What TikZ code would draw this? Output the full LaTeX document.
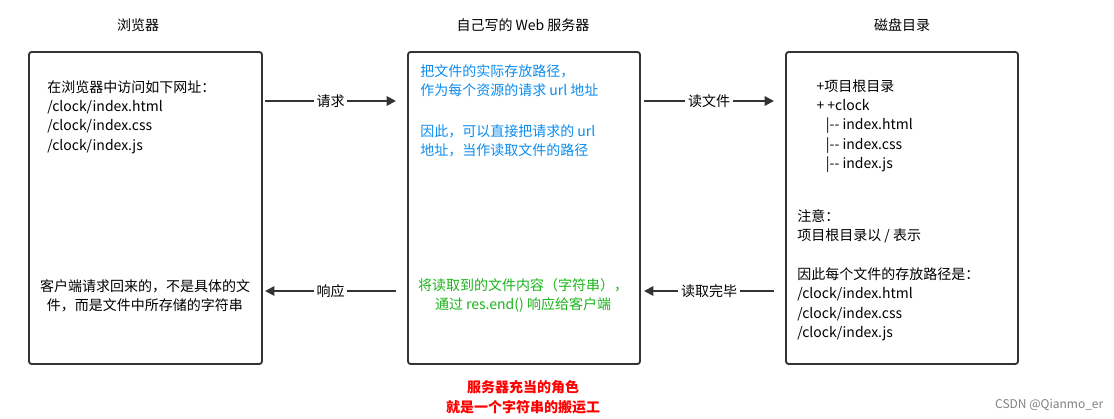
\documentclass[tikz,border=0pt]{standalone}
\usepackage{fontspec}
\setmainfont{Noto Sans CJK SC}
\usetikzlibrary{arrows.meta}
\definecolor{boxline}{HTML}{333333}
\definecolor{bluetxt}{HTML}{0A8CF0}
\definecolor{greentxt}{HTML}{1AB31A}
\newcommand{\treedash}{|{-}{-}}
\tikzset{
  panel/.style={draw=boxline,line width=1.4pt,rounded corners=2pt},
  title/.style={font=\fontsize{10.5}{13}\selectfont},
  body/.style={align=left,anchor=north west,inner sep=0pt,font=\fontsize{10.5}{14.6}\selectfont},
  flow/.style={draw=boxline,line width=1.4pt,-{Triangle[length=7pt,width=7pt]}},
  lbl/.style={fill=white,inner sep=2pt,font=\fontsize{10.5}{13}\selectfont}
}
\begin{document}
\begin{tikzpicture}[x=0.75pt,y=-0.75pt]
\useasboundingbox (0,0) rectangle (1114,418);
% boxes
\draw[panel] (29,52) rectangle (262,364);
\draw[panel] (408,52) rectangle (640,364);
\draw[panel] (786,52) rectangle (1018,364);
% titles
\node[title] (t1) at (138,25) {浏览器};
\node[title] (t2) at (523,25) {自己写的 Web 服务器};
\node[title] (t3) at (902,25) {磁盘目录};
% left box
\node[body] (req) at (47,80) {在浏览器中访问如下网址：\\/clock/index.html\\/clock/index.css\\/clock/index.js};
\node[body,align=center,anchor=north] (got) at (145,279) {客户端请求回来的，不是具体的文\\件，而是文件中所存储的字符串};
% middle box
\node[body,text=bluetxt] (map) at (420,64) {把文件的实际存放路径，\\作为每个资源的请求 url 地址};
\node[body,text=bluetxt] (url) at (420,124) {因此，可以直接把请求的 url\\地址，当作读取文件的路径};
\node[body,text=greentxt,align=center,anchor=north] (send) at (523,278) {将读取到的文件内容（字符串），\\通过 res.end() 响应给客户端};
% right box
\node[body] (tree) at (810,79) {\ \ +项目根目录\\\ \ + +clock\\\ \ \ \ \ \treedash{} index.html\\\ \ \ \ \ \treedash{} index.css\\\ \ \ \ \ \treedash{} index.js};
\node[body] (note) at (797,209) {注意：\\项目根目录以 / 表示};
\node[body] (path) at (797,267) {因此每个文件的存放路径是：\\/clock/index.html\\/clock/index.css\\/clock/index.js};
% arrows
\node[coordinate] (a1) at (265,101) {};
\node[coordinate] (b1) at (396,101) {};
\node[coordinate] (a2) at (644,101) {};
\node[coordinate] (b2) at (774,101) {};
\node[coordinate] (a3) at (396,291) {};
\node[coordinate] (b3) at (265,291) {};
\node[coordinate] (a4) at (774,291) {};
\node[coordinate] (b4) at (644,291) {};
\draw[flow] (a1) -- node[lbl] {请求} (b1);
\draw[flow] (a2) -- node[lbl] {读文件} (b2);
\draw[flow] (a3) -- node[lbl] {响应} (b3);
\draw[flow] (a4) -- node[lbl] {读取完毕} (b4);
% role
\node[align=center,text=red,font=\bfseries\fontsize{10.5}{14.6}\selectfont] (role) at (523,397) {服务器充当的角色\\就是一个字符串的搬运工};
\node[anchor=east,text=gray,font=\fontsize{9}{11}\selectfont] (mark) at (1108,405) {CSDN @Qianmo\_er};
\end{tikzpicture}
\end{document}
